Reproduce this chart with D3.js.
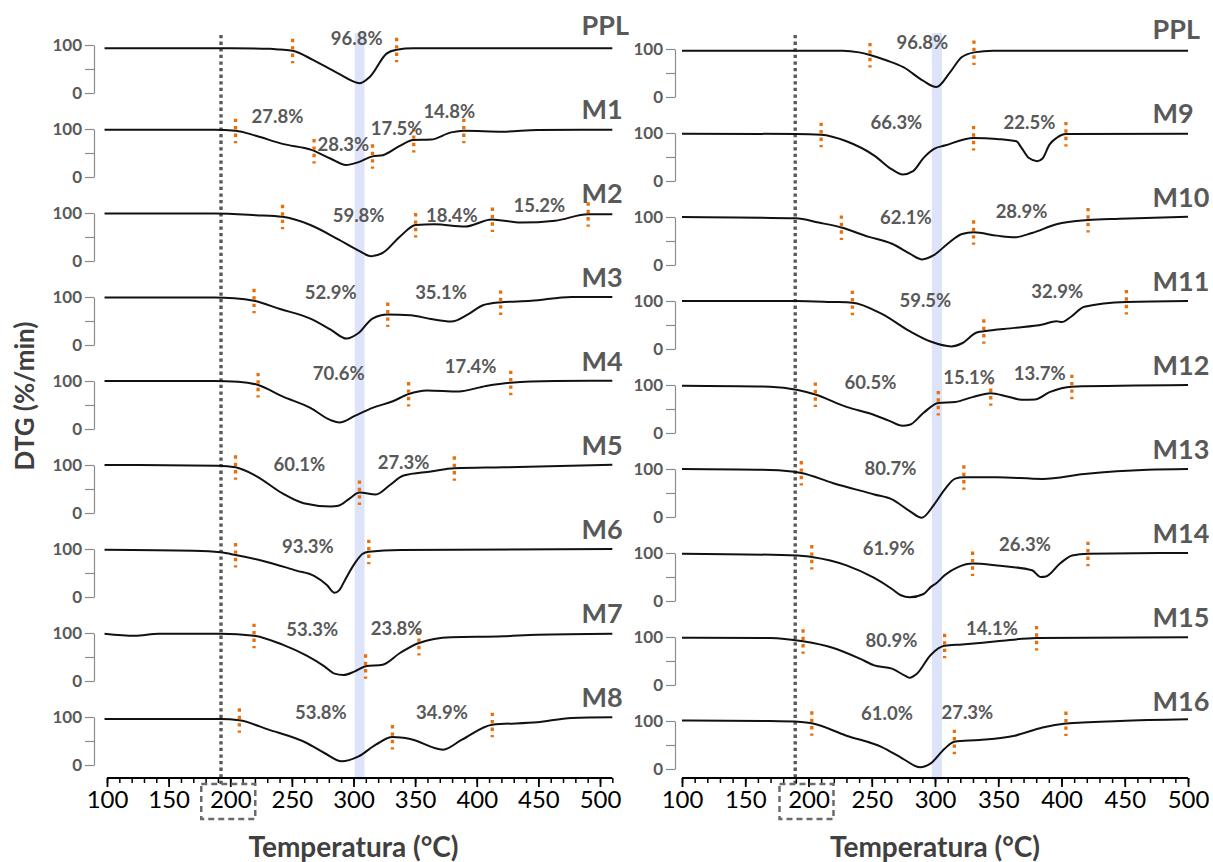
<!DOCTYPE html>
<html><head><meta charset="utf-8">
<script src="https://cdn.jsdelivr.net/npm/d3@7"></script>
<style>body{margin:0;background:#fff}svg{display:block}</style>
</head><body>
<svg id="c" width="1213" height="862"></svg>
<script>
// ---------- data ----------
const xMajorTicks = [100,150,200,250,300,350,400,450,500];
const yTicks = [0, 50, 100];
const yTickLabels = {0: "0", 50: "", 100: "100"};
const dottedTempLeft = 192.5;
const dottedTempRight = 189.5;
const bandTempLeft = [301, 309];
const bandTempRight = [297.5, 305.5];
const boxedTick = 200;
const xTitle = "Temperatura (°C)";
const yTitle = "DTG (%/min)";

const leftNames  = ["PPL","M1","M2","M3","M4","M5","M6","M7","M8"];
const rightNames = ["PPL","M9","M10","M11","M12","M13","M14","M15","M16"];

// curves: [temperature °C, DTG scaled 0-100 within each row]
const curvePPL_L = [[98,93],[201.3,93.2],[232.1,92],[240.4,90.5],[250.6,88],[267.1,69],[286.7,42],[305.2,20.5],[313.4,34],[326.8,82],[335,90],[348.4,93],[510,93]];
const curveM1 = [[98,98.6],[187,98.6],[204.3,96.5],[220.8,86],[242.4,69],[266,56.5],[281.6,38],[293.9,25],[304.1,31],[315.4,43],[323.8,45.5],[338,65.5],[348.4,77],[362.8,78],[379.2,93],[389.5,96.5],[421.4,94.5],[449.2,98],[510,98.6]];
const curveM2 = [[98,98.7],[187,98.7],[220.8,95.3],[242.4,92],[265,75],[287.7,45],[304.1,21.5],[314.4,10],[323.7,16.8],[338,51.7],[350.4,75],[365.9,76.5],[390.6,71.8],[412.2,86.6],[435.8,80],[463.6,84],[490.4,97.3],[510,97.3]];
const curveM3 = [[98,98.7],[187,98.7],[203.3,97.3],[219.3,92],[240.4,75],[265,55],[281.5,32],[294.4,13.3],[304.1,25],[315.4,55],[327.8,63.3],[346.3,62],[362.8,54],[379.2,48.7],[393.6,65],[405,82.7],[418.8,88.7],[444.1,92],[477,100],[510,100]];
const curveM4 = [[98,100],[187,100],[206.4,98.6],[222.6,91.8],[242.4,68],[265,44],[281.5,18.4],[288.7,13.6],[301,27.2],[315.4,44],[331.9,57.8],[344.7,72.8],[359.7,80.3],[385.4,78.2],[407.5,89.8],[427.6,96.6],[463.6,100],[510,100.7]];
const curveM5 = [[98,100],[190,98.6],[204.3,95.2],[220.4,78],[242.4,40.8],[259.5,20.4],[281.5,13.6],[287.7,15],[297,30.6],[304.8,42.9],[318.1,38.8],[329.3,57.8],[340.6,78],[362.8,86.4],[381.8,93.2],[421.4,95.2],[510,100.7]];
const curveM6 = [[98,98.6],[170.4,96.5],[192,93],[204.3,87.5],[226,75.7],[253.7,55],[268,44],[278.4,25],[284.6,9],[288.7,15],[292.8,34],[301,70],[307.2,89.6],[312.4,94.4],[338.1,98],[510,100]];
const curveM7 = [[98,98.6],[122.6,94.4],[142.1,98.6],[192,98.6],[219.3,94.4],[242.4,75.7],[262,52.8],[276.4,30.6],[284.6,15.3],[291.8,12.5],[301,20],[309.8,30.6],[323.7,34],[337.7,58.3],[353.1,79.2],[379.2,91],[421.4,93],[449.2,96.5],[510,98.6]];
const curveM8 = [[98,95.8],[192,95.8],[207.4,93],[231.1,73.6],[262,45.8],[276.4,25],[290.3,7.6],[304.1,18],[318.1,42.4],[331.6,58.3],[346.1,54.2],[372.7,32],[388,52.8],[412.6,84],[449.2,89],[477,98],[510,99.3]];

const curvePPL_R = [[100,96.5],[227,96.5],[240,93],[248.6,87.6],[262,76],[275,62],[290.5,34],[301,20.6],[312,52],[321,82.8],[331,93],[346,96.5],[500,96.5]];
const curveM9 = [[100,98.6],[190,98],[210,96.5],[230,82.8],[252,53],[266,24],[274.4,13.8],[282.7,20.7],[291,48.3],[299.3,67],[307.6,73.8],[330.5,89.7],[349,87.6],[364.3,82.8],[368.4,69],[374,48.3],[380.8,41.4],[385,47],[390.5,75.9],[396,89.7],[403.5,98],[500,98.6]];
const curveM10 = [[100,100],[190,97.3],[208,88.4],[226,78.2],[247,59.2],[266,44.2],[280,23.8],[290,11.6],[299,20.4],[310,44.2],[321.4,64.6],[330.5,68],[349,61.2],[363,57.8],[376.7,66.7],[396,85],[421,93.9],[446,96.6],[500,100.7]];
const curveM11 = [[100,100],[190,100],[219,98],[234.7,96.6],[258,73],[280,37],[296.5,15.5],[313,5.4],[321.4,12],[332.5,33.8],[338.6,37],[363,44],[385,51],[396,58],[400.2,56],[407,66.2],[418,88],[451.3,98],[500,100]];
const curveM12 = [[100,98.6],[169.5,96.6],[191.6,89.8],[205.4,80.3],[230,54.4],[252,37.4],[263.4,25.9],[274.4,15],[280,17],[291,42.2],[302.6,62.6],[316,64.6],[329.7,74.8],[344,83],[357,76.2],[368.4,69.4],[379.4,70],[390.5,85],[408,96.6],[500,100]];
const curveM13 = [[100,100],[169.5,98],[194.3,91.7],[219,71],[252,47],[266,36.6],[280,12.4],[289.6,-1.5],[299.3,26],[307.6,57],[316,80],[322.8,82.8],[349,82.8],[385,79.3],[418,89.7],[468,98.6],[500,100]];
const curveM14 = [[100,98.6],[191.6,95],[202.6,91.7],[230,74.3],[252,48],[266,25],[273,12],[280,7.7],[291,14.6],[297,30],[301,37],[307.6,53.5],[318.6,71],[329.7,78],[349,74],[376.7,64],[383.6,50],[387.7,51],[398.8,78],[408.4,95],[421,98.6],[500,100]];
const curveM15 = [[100,98.6],[169.5,98],[195.7,91],[219,77.6],[241,54.4],[252,40.8],[266,34],[277,18.4],[280,15],[285.5,23],[296.6,62.6],[307.6,81.6],[321.4,84.4],[349,91],[380.3,98],[500,99.3]];
const curveM16 = [[100,101],[169.5,100],[194.3,98],[202.6,95.2],[230,69.4],[258,45.6],[274.4,21.8],[288.3,3.4],[296.6,11.6],[307.6,42.2],[315.3,57],[335,60.5],[363,69.4],[385,86.4],[403.5,94.6],[446,100],[500,103.4]];

// stage limits (orange markers), temperature °C
const markPPL_L = [250.6, 335];
const markM1 = [204.3, 268, 315.4, 348.9, 389.5];
const markM2 = [242.4, 350.4, 412.7, 490.4];
const markM3 = [219.3, 327.8, 419.4];
const markM4 = [222.6, 344.7, 427.6];
const markM5 = [204.3, 304.8, 381.8];
const markM6 = [204.3, 312.4];
const markM7 = [219.3, 309.8, 353.1];
const markM8 = [207.4, 331.6, 412.6];
const markPPL_R = [248.6, 330.8];
const markM9 = [210, 330.5, 403.5];
const markM10 = [226, 330.5, 421];
const markM11 = [234.7, 338.6, 451.3];
const markM12 = [205.4, 302.6, 344.1, 408.2];
const markM13 = [194.3, 322.8];
const markM14 = [202.6, 329.7, 420.9];
const markM15 = [195.7, 307.6, 380.3];
const markM16 = [202.6, 315.3, 403.5];

// mass-loss labels: [text, temperature, DTG]
const pctPPL_L = [["96.8%",302.6,115]];
const pctM1 = [["27.8%",238.3,128],["28.3%",291.8,69],["17.5%",335,102],["14.8%",377.7,138]];
const pctM2 = [["59.8%",304.1,95],["18.4%",379.8,96.6],["15.2%",450.8,116.8]];
const pctM3 = [["52.9%",281.5,110.7],["35.1%",371,110.7]];
const pctM4 = [["70.6%",288,117],["17.4%",395,131.3]];
const pctM5 = [["60.1%",256.1,102],["27.3%",340.6,105.4]];
const pctM6 = [["93.3%",263,107]];
const pctM7 = [["53.3%",266.5,108.3],["23.8%",335,110.4]];
const pctM8 = [["53.8%",273.5,109.7],["34.9%",371.8,109.7]];
const pctPPL_R = [["96.8%",290,114]];
const pctM9 = [["66.3%",269.5,122.8],["22.5%",374.7,122.8]];
const pctM10 = [["62.1%",277,100],["28.9%",368.4,112]];
const pctM11 = [["59.5%",292.4,101.4],["32.9%",396.6,120.3]];
const pctM12 = [["60.5%",249,106.8],["15.1%",327,117],["13.7%",382.8,125.9]];
const pctM13 = [["80.7%",264.8,102]];
const pctM14 = [["61.9%",263.4,110.4],["26.3%",371.1,118]];
const pctM15 = [["80.9%",265.6,93],["14.1%",345,118.4]];
const pctM16 = [["61.0%",262,117],["27.3%",325.6,118.4]];

const leftCurves = [curvePPL_L,curveM1,curveM2,curveM3,curveM4,curveM5,curveM6,curveM7,curveM8];
const rightCurves = [curvePPL_R,curveM9,curveM10,curveM11,curveM12,curveM13,curveM14,curveM15,curveM16];
const leftMarks = [markPPL_L,markM1,markM2,markM3,markM4,markM5,markM6,markM7,markM8];
const rightMarks = [markPPL_R,markM9,markM10,markM11,markM12,markM13,markM14,markM15,markM16];
const leftPct = [pctPPL_L,pctM1,pctM2,pctM3,pctM4,pctM5,pctM6,pctM7,pctM8];
const rightPct = [pctPPL_R,pctM9,pctM10,pctM11,pctM12,pctM13,pctM14,pctM15,pctM16];

// ---------- drawing ----------
const svg = d3.select("#c");
const FONT = "Lato, 'Open Sans', sans-serif";
const GREY = "#595959";
const ORANGE = "#E8700C";

const panels = [
  {names: leftNames, curves: leftCurves, marks: leftMarks, pct: leftPct, band: bandTempLeft, dotted: dottedTempLeft,
   xr: [107, 600], axisEnd: 510, yAxisX: 94, top: 45, nameT: 485},
  {names: rightNames, curves: rightCurves, marks: rightMarks, pct: rightPct, band: bandTempRight, dotted: dottedTempRight,
   xr: [682, 1188], axisEnd: 500, yAxisX: 675, top: 49, nameT: 472}
];
const STEP = 84, ROWH = 48, AXISY = 778;

function valueAt(curve, t) {
  const i = d3.bisector(d => d[0]).left(curve, t);
  if (i <= 0) return curve[0][1];
  if (i >= curve.length) return curve[curve.length-1][1];
  const a = curve[i-1], b = curve[i];
  return a[1] + (b[1]-a[1]) * (t - a[0]) / (b[0]-a[0]);
}

panels.forEach(p => {
  const x = d3.scaleLinear().domain([100, 500]).range(p.xr);
  const g = svg.append("g");

  // highlighted band
  g.append("rect")
    .attr("x", x(p.band[0])).attr("width", x(p.band[1]) - x(p.band[0]))
    .attr("y", 33).attr("height", AXISY + 2 - 33)
    .attr("fill", "#dde3f9");

  // dotted reference line
  g.append("line")
    .attr("x1", x(p.dotted)).attr("x2", x(p.dotted))
    .attr("y1", 35).attr("y2", AXISY + 6)
    .attr("stroke", "#5a5a5a").attr("stroke-width", 3.4)
    .attr("stroke-dasharray", "3.3,3.3");

  p.names.forEach((name, i) => {
    const top = p.top + i * STEP;
    const y = d3.scaleLinear().domain([0, 100]).range([top + ROWH, top]);

    const ax = g.append("g").attr("transform", `translate(${p.yAxisX},0)`)
      .call(d3.axisLeft(y).tickValues(yTicks).tickFormat(d => yTickLabels[d]).tickSize(9).tickSizeOuter(0).tickPadding(3));
    ax.select(".domain").attr("stroke", "#8c8c8c").attr("stroke-width", 1.2);
    ax.selectAll(".tick line").attr("stroke", "#8c8c8c").attr("stroke-width", 1.2);
    ax.selectAll("text").attr("font-family", FONT).attr("font-weight", "bold").attr("font-size", 17).attr("fill", GREY);

    const curve = p.curves[i];
    g.append("path").datum(curve)
      .attr("d", d3.line().x(d => x(d[0])).y(d => y(d[1])).curve(d3.curveMonotoneX))
      .attr("fill", "none").attr("stroke", "#111").attr("stroke-width", 2);

    g.selectAll(null).data(p.marks[i]).enter().append("line")
      .attr("x1", d => x(d)).attr("x2", d => x(d))
      .attr("y1", d => y(valueAt(curve, d)) - 12)
      .attr("y2", d => y(valueAt(curve, d)) + 12.5)
      .attr("stroke", ORANGE).attr("stroke-width", 3.3)
      .attr("stroke-dasharray", "3.4,4");

    g.selectAll(null).data(p.pct[i]).enter().append("text")
      .attr("x", d => x(d[1])).attr("y", d => y(d[2]))
      .attr("text-anchor", "middle").attr("dominant-baseline", "central")
      .attr("font-family", FONT).attr("font-weight", "bold").attr("font-size", 18.5)
      .attr("fill", GREY).text(d => d[0]);

    g.append("text")
      .attr("x", x(p.nameT)).attr("y", top - 21)
      .attr("dominant-baseline", "central")
      .attr("font-family", FONT).attr("font-weight", "bold").attr("font-size", 27)
      .attr("fill", GREY).text(name);
  });

  // x axis: line, minor and major ticks
  const minorTicks = d3.range(100, p.axisEnd + 1, 10);
  g.append("line")
    .attr("x1", x(100)).attr("x2", x(p.axisEnd))
    .attr("y1", AXISY).attr("y2", AXISY)
    .attr("stroke", "#000").attr("stroke-width", 2);
  const minor = g.append("g").attr("transform", `translate(0,${AXISY})`)
    .call(d3.axisBottom(x).tickValues(minorTicks).tickSize(5).tickFormat(""));
  minor.select(".domain").remove();
  minor.selectAll(".tick line").attr("stroke", "#000").attr("stroke-width", 1.5);
  const major = g.append("g").attr("transform", `translate(0,${AXISY})`)
    .call(d3.axisBottom(x).tickValues(xMajorTicks).tickSize(9).tickSizeOuter(0).tickPadding(4));
  major.select(".domain").remove();
  major.selectAll(".tick line").attr("stroke", "#000").attr("stroke-width", 1.8);
  major.selectAll("text").attr("font-family", FONT).attr("font-size", 24).attr("fill", "#000");

  // dashed box around the 200 tick label
  g.append("rect")
    .attr("x", x(boxedTick) - 29).attr("width", 54)
    .attr("y", AXISY + 6).attr("height", 35)
    .attr("fill", "none").attr("stroke", "#6b6b6b").attr("stroke-width", 2.5)
    .attr("stroke-dasharray", "6,4");

  g.append("text")
    .attr("x", (x(100) + x(500)) / 2).attr("y", 857)
    .attr("text-anchor", "middle")
    .attr("font-family", FONT).attr("font-weight", "bold").attr("font-size", 28)
    .attr("fill", "#404040").text(xTitle);
});

svg.append("text")
  .attr("transform", "translate(34,396) rotate(-90)")
  .attr("text-anchor", "middle")
  .attr("font-family", FONT).attr("font-weight", "bold").attr("font-size", 26)
  .attr("fill", "#404040").text(yTitle);
</script>
</body></html>
